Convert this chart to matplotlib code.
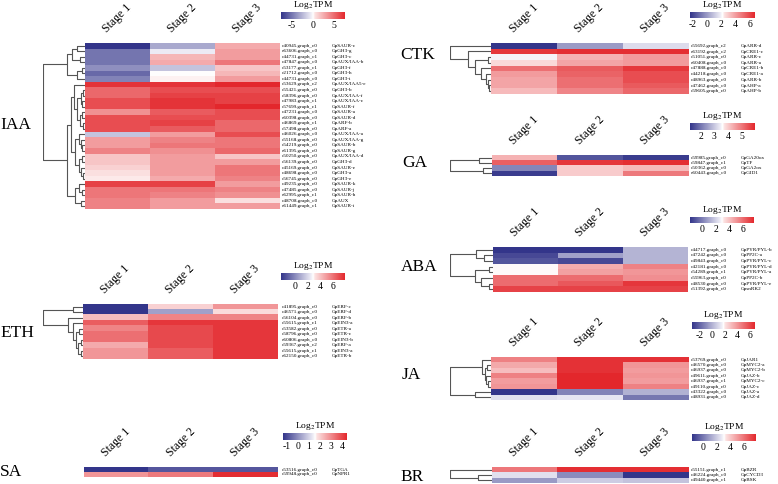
import matplotlib
matplotlib.use('Agg')
import matplotlib.pyplot as plt
import matplotlib.transforms as mtransforms
from matplotlib.colors import LinearSegmentedColormap
import numpy as np

plt.rcParams['font.family'] = ['Liberation Serif', 'DejaVu Serif']
plt.rcParams['mathtext.fontset'] = 'stix'
plt.rcParams['axes.unicode_minus'] = False

W, H = 778, 484
stages = ['Stage 1', 'Stage 2', 'Stage 3']

# ---- IAA ----
iaa_ids = ['c40945.graph_c0', 'c63606.graph_c0', 'c44731.graph_c1', 'c47847.graph_c0', 'c53177.graph_c1',
           'c21712.graph_c0', 'c44731.graph_c0', 'c53629.graph_c2', 'c55421.graph_c0', 'c58396.graph_c0',
           'c47983.graph_c1', 'c57699.graph_c1', 'c47231.graph_c0', 'c60398.graph_c0', 'c46869.graph_c1',
           'c57498.graph_c0', 'c46026.graph_c0', 'c55168.graph_c0', 'c54219.graph_c0', 'c61395.graph_c0',
           'c50250.graph_c0', 'c56139.graph_c0', 'c45169.graph_c0', 'c48698.graph_c0', 'c56745.graph_c0',
           'c49235.graph_c0', 'c47485.graph_c0', 'c62995.graph_c1', 'c48708.graph_c0', 'c61449.graph_c1']
iaa_genes = ['GpSAUR-c', 'GpGH3-g', 'GpGH3-c', 'GpAUX/IAA-b', 'GpGH3-f', 'GpGH3-h', 'GpGH3-i', 'GpAUX/IAA5-e',
             'GpGH3-b', 'GpAUX/IAA-f', 'GpAUX/IAA-c', 'GpSAUR-f', 'GpSAUR-a', 'GpSAUR-d', 'GpARF-b', 'GpARF-a',
             'GpAUX/IAA-a', 'GpAUX/IAA-g', 'GpSAUR-b', 'GpSAUR-g', 'GpAUX/IAA-d', 'GpGH3-d', 'GpSAUR-e',
             'GpGH3-a', 'GpGH3-e', 'GpSAUR-k', 'GpSAUR-j', 'GpSAUR-h', 'GpAUX', 'GpSAUR-i']
iaa_values = [[-7.5, -3.0, 2.5], [-5.0, -0.5, 3.0], [-5.0, 2.0, 3.0], [-5.0, 2.5, 4.5], [-4.0, -2.0, 1.5],
              [-5.5, 0.0, 2.0], [-4.5, 0.2, 3.0], [7.0, 7.0, 7.5], [5.0, 6.0, 6.0], [5.0, 6.5, 6.5],
              [6.0, 7.0, 6.5], [6.0, 7.0, 7.5], [3.5, 5.5, 6.0], [6.0, 6.0, 6.0], [6.0, 6.5, 5.0],
              [6.0, 5.5, 5.0], [-2.0, 3.0, 6.0], [3.0, 4.0, 4.5], [3.0, 4.5, 4.5], [4.0, 3.5, 5.0],
              [1.5, 3.0, 1.5], [1.5, 3.0, 3.0], [1.0, 3.0, 4.5], [0.5, 3.0, 4.5], [0.3, 2.5, 4.0],
              [6.5, 6.5, 3.0], [4.5, 4.5, 4.0], [4.5, 4.0, 3.5], [4.0, 3.0, 0.5], [4.0, 3.0, 3.0]]
iaa_tree = (1.0,
            (0.43, (0.3, (0.2, 0, 1), (0.12, 2, 3)), (0.18, (0.08, 4, 5), 6)),
            (0.43,
             (0.33,
              (0.27, 7, (0.2, (0.1, (0.05, 8, 9), (0.06, 10, 11)), (0.12, (0.06, 12, 13), (0.05, 14, 15)))),
              (0.25, (0.15, 16, (0.1, 17, (0.06, 18, 19))), (0.14, (0.08, 20, 21), (0.1, 22, (0.05, 23, 24))))),
             (0.25, (0.15, 25, (0.07, 26, 27)), (0.1, 28, 29))))
iaa_range = (-7.5, 7.5)
iaa_ticks = [-5, 0, 5]

# ---- ETH ----
eth_ids = ['c41895.graph_c0', 'c46571.graph_c0', 'c56104.graph_c0', 'c55615.graph_c1', 'c53582.graph_c0',
           'c58796.graph_c0', 'c60806.graph_c0', 'c59367.graph_c2', 'c55615.graph_c1', 'c62150.graph_c0']
eth_genes = ['GpERF-c', 'GpERF-d', 'GpERF-b', 'GpEIN3-a', 'GpETR-a', 'GpETR-c', 'GpEIN3-b', 'GpERF-a',
             'GpEIN3-a', 'GpETR-b']
eth_values = [[-2.3, 3.5, 5.0], [-2.3, 0.5, 3.2], [4.0, 5.5, 5.5], [6.5, 7.5, 7.5], [5.5, 7.0, 7.5],
              [6.0, 7.0, 7.5], [6.0, 7.0, 7.5], [4.5, 7.0, 7.5], [5.0, 6.5, 7.5], [5.0, 6.5, 7.5]]
eth_tree = (1.0, (0.25, 0, 1),
            (0.38, 2, (0.25, 3, (0.18, (0.1, 4, 5), (0.12, (0.06, 6, 7), (0.05, 8, 9))))))
eth_range = (-2.3, 7.9)
eth_ticks = [0, 2, 4, 6]

# ---- SA ----
sa_ids = ['c53516.graph_c0', 'c59948.graph_c0']
sa_genes = ['GpTGA', 'GpNPR1']
sa_values = [[-1.3, -0.8, -0.8], [2.8, 3.2, 4.3]]
sa_range = (-1.3, 4.4)
sa_ticks = [-1, 0, 1, 2, 3, 4]

# ---- CTK ----
ctk_ids = ['c55692.graph_c2', 'c63192.graph_c2', 'c51051.graph_c0', 'c60408.graph_c0', 'c47888.graph_c0',
           'c44218.graph_c0', 'c48963.graph_c0', 'c47462.graph_c0', 'c59605.graph_c0']
ctk_genes = ['GpARR-d', 'GpCRE1-c', 'GpARR-c', 'GpARR-a', 'GpCRE1-b', 'GpCRE1-a', 'GpARR-b', 'GpAHP-a', 'GpAHP-b']
ctk_values = [[-2.4, 0.0, 1.5], [6.3, 6.5, 6.5], [2.0, 3.5, 4.0], [2.6, 3.8, 4.0], [5.0, 5.5, 6.3],
              [4.0, 5.3, 5.8], [3.8, 5.0, 5.8], [3.8, 5.0, 5.5], [3.3, 4.5, 5.2]]
ctk_tree = (1.0, 0, (0.56, 1, (0.4, (0.08, 2, 3), (0.25, 4, (0.12, 5, (0.08, 6, (0.05, 7, 8)))))))
ctk_range = (-2.4, 6.7)
ctk_ticks = [-2, 0, 2, 4, 6]

# ---- GA ----
ga_ids = ['c59985.graph_c0', 'c59847.graph_c1', 'c50362.graph_c0', 'c60443.graph_c0']
ga_genes = ['GpGA20ox', 'GpTF', 'GpGA2ox', 'GpGID1']
ga_values = [[4.3, 1.6, 1.3], [5.3, 5.8, 5.9], [2.2, 4.0, 4.2], [1.3, 4.0, 5.0]]
ga_tree = (1.0, (0.3, 0, 1), (0.22, 2, 3))
ga_range = (1.2, 6.0)
ga_ticks = [2, 3, 4, 5]

# ---- ABA ----
aba_ids = ['c44717.graph_c0', 'c47242.graph_c0', 'c49843.graph_c0', 'c42181.graph_c0', 'c54289.graph_c1',
           'c55963.graph_c0', 'c48530.graph_c0', 'c51392.graph_c0']
aba_genes = ['GpPYR/PYL-b', 'GpPP2C-a', 'GpPYR/PYL-c', 'GpPYR/PYL-d', 'GpPYR/PYL-a', 'GpPP2C-b',
             'GpPYR/PYL-e', 'GpsnRK2']
aba_values = [[-1.8, -1.8, 1.3], [-1.3, 0.8, 1.3], [-1.0, -1.3, 1.3], [3.0, 4.5, 5.5], [3.0, 4.8, 5.0],
              [6.0, 6.0, 5.2], [6.0, 6.5, 7.3], [7.0, 7.0, 7.0]]
aba_tree = (1.0, (0.4, 0, (0.2, 1, 2)), (0.42, (0.1, 3, 4), (0.27, 5, (0.1, 6, 7))))
aba_range = (-1.8, 7.7)
aba_ticks = [0, 2, 4, 6]

# ---- JA ----
ja_ids = ['c53769.graph_c0', 'c46570.graph_c0', 'c46937.graph_c0', 'c49611.graph_c0', 'c46937.graph_c1',
          'c49110.graph_c0', 'c43322.graph_c0', 'c48931.graph_c0']
ja_genes = ['GpJAR1', 'GpMYC2-a', 'GpMYC2-b', 'GpJAZ-b', 'GpMYC2-c', 'GpJAZ-c', 'GpJAZ-a', 'GpJAZ-d']
ja_values = [[4.5, 6.5, 6.5], [3.5, 6.5, 4.0], [3.0, 6.5, 3.8], [4.5, 6.8, 4.0], [3.8, 6.8, 3.8],
             [4.0, 6.8, 4.5], [-3.2, -1.2, 0.0], [1.2, 1.3, -1.5]]
ja_tree = (1.0, (0.22, 0, (0.15, (0.1, 1, 2), (0.12, 3, (0.07, 4, 5)))), (0.39, 6, 7))
ja_range = (-3.2, 6.8)
ja_ticks = [-2, 0, 2, 4, 6]

# ---- BR ----
br_ids = ['c55151.graph_c1', 'c46224.graph_c0', 'c49440.graph_c1']
br_genes = ['GpBZR', 'GpCYCD3', 'GpBSK']
br_values = [[5.8, 7.5, 7.5], [2.5, 0.5, -1.6], [0.8, 2.0, 1.8]]
br_tree = (1.0, 0, (0.34, 1, 2))
br_range = (-1.6, 7.7)
br_ticks = [0, 2, 4, 6]

cmap = LinearSegmentedColormap.from_list(
    'bwr_tb', [(0.0, '#33358a'), (0.47, '#eeedf6'), (0.5, '#ffffff'), (0.53, '#fbe1e1'), (1.0, '#e3272c')])

fig = plt.figure(figsize=(W / 100, H / 100), dpi=100)


def add_ax(x0, y0, x1, y1):
    # pixel box (top-left origin) -> figure axes
    return fig.add_axes([x0 / W, 1 - y1 / H, (x1 - x0) / W, (y1 - y0) / H])


def draw_tree(ax, node):
    if isinstance(node, int):
        return node, 0.0
    h, left, right = node
    yl, hl = draw_tree(ax, left)
    yr, hr = draw_tree(ax, right)
    ax.plot([hl, h, h, hr], [yl, yl, yr, yr], color='#555555', lw=0.8, solid_capstyle='butt')
    return (yl + yr) / 2, h


def draw_panel(name, ids, genes, values, tree, vrange, ticks, box, cbox, dendro_x0, name_xy, label_x):
    x0, y0, x1, y1 = box
    n = len(values)
    ax = add_ax(x0, y0, x1, y1)
    im = ax.imshow(np.array(values), cmap=cmap, vmin=vrange[0], vmax=vrange[1],
                   aspect='auto', interpolation='nearest')
    ax.axis('off')

    # row labels
    fs = 3.7
    for i in range(n):
        ax.text((label_x[0] - x0) / (x1 - x0), i, ids[i], transform=ax.get_yaxis_transform(),
                fontsize=fs, va='center', ha='left')
        ax.text((label_x[1] - x0) / (x1 - x0), i, genes[i], transform=ax.get_yaxis_transform(),
                fontsize=fs, va='center', ha='left')

    # stage labels
    tr = mtransforms.offset_copy(ax.get_xaxis_transform(), fig=fig, y=18, units='points')
    for j, s in enumerate(stages):
        ax.text(j, 1, s, transform=tr, rotation=45, fontsize=8.5, ha='center', va='center')

    # dendrogram
    if tree is not None:
        dax = add_ax(dendro_x0, y0, x0, y1)
        draw_tree(dax, tree)
        dax.set_xlim(1.0, 0.0)
        dax.set_ylim(n - 0.5, -0.5)
        dax.axis('off')

    # colour key
    cax = add_ax(*cbox)
    cb = fig.colorbar(im, cax=cax, orientation='horizontal', ticks=ticks)
    cb.outline.set_visible(False)
    cax.tick_params(length=0, labelsize=7, pad=1.5)
    cax.text(0.5, 1, 'Log$_2$TPM', transform=mtransforms.offset_copy(cax.transAxes, fig=fig, y=0.5, units='points'),
             ha='center', va='bottom', fontsize=6.8)

    fig.text(name_xy[0] / W, 1 - name_xy[1] / H, name, fontsize=12.5, ha='left', va='center')


left_lab = (282, 332)
right_lab = (691, 741)

draw_panel('IAA', iaa_ids, iaa_genes, iaa_values, iaa_tree, iaa_range, iaa_ticks,
           (85, 43, 280, 209), (281, 12, 345, 19), 43, (0, 125), left_lab)
draw_panel('ETH', eth_ids, eth_genes, eth_values, eth_tree, eth_range, eth_ticks,
           (83, 304, 278, 359), (281, 273, 345, 280), 43, (0, 333), left_lab)
draw_panel('SA', sa_ids, sa_genes, sa_values, None, sa_range, sa_ticks,
           (84, 467, 278, 477), (283, 433, 347, 440), 43, (0, 472), left_lab)
draw_panel('CTK', ctk_ids, ctk_genes, ctk_values, ctk_tree, ctk_range, ctk_ticks,
           (491, 43, 688, 94), (690, 12, 755, 18), 450, (400, 55), right_lab)
draw_panel('GA', ga_ids, ga_genes, ga_values, ga_tree, ga_range, ga_ticks,
           (492, 155, 688, 176), (690, 123, 755, 130), 450, (402, 163), right_lab)
draw_panel('ABA', aba_ids, aba_genes, aba_values, aba_tree, aba_range, aba_ticks,
           (493, 247, 688, 292), (690, 217, 754, 223), 450, (401, 267), right_lab)
draw_panel('JA', ja_ids, ja_genes, ja_values, ja_tree, ja_range, ja_ticks,
           (491, 357, 688, 400), (692, 322, 755, 329), 450, (402, 375), right_lab)
draw_panel('BR', br_ids, br_genes, br_values, br_tree, br_range, br_ticks,
           (492, 467, 688, 483), (692, 434, 756, 441), 450, (400, 477), right_lab)

fig.savefig('out.png', dpi=100)
